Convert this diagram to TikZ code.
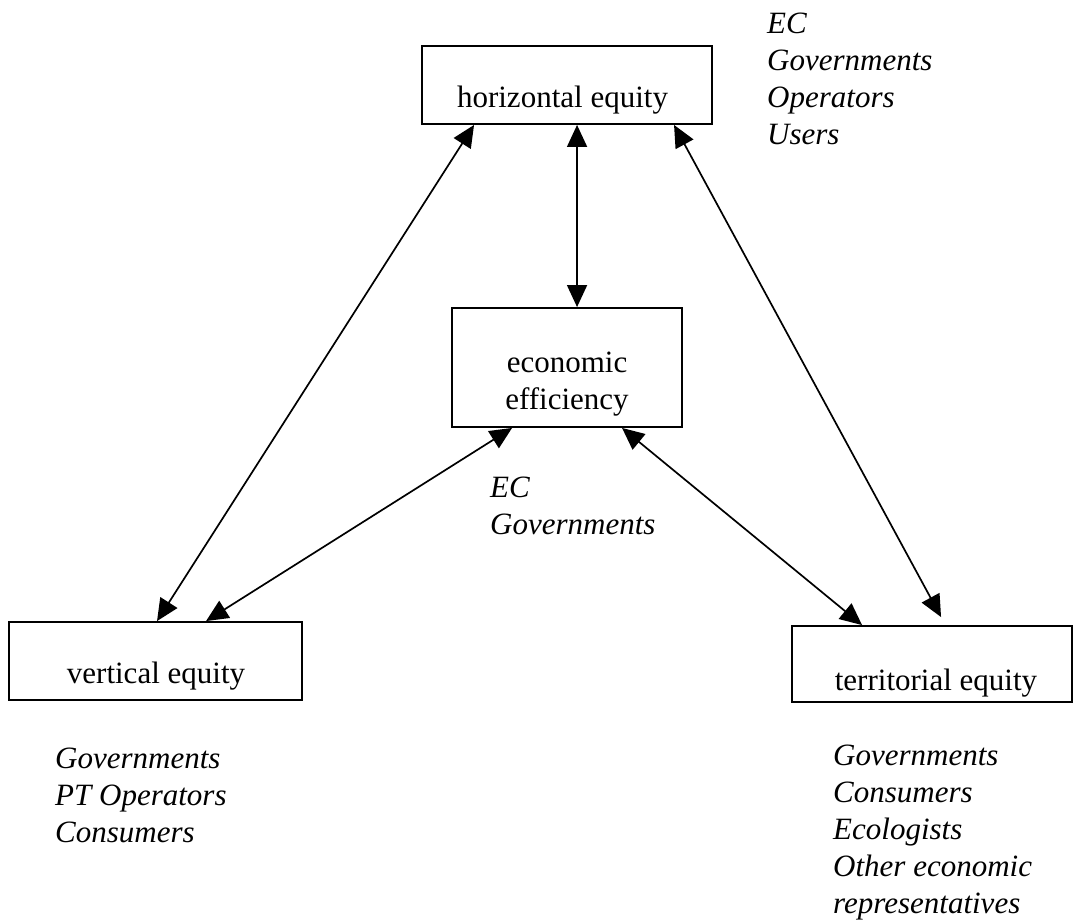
\documentclass[tikz,border=0pt]{standalone}
\usepackage{fontspec}
\setmainfont{Liberation Serif}
\usetikzlibrary{arrows.meta,calc}
\tikzset{
  box/.style={draw, line width=1.9pt, rectangle, inner sep=0pt, fill=white},
  boxtext/.style={anchor=base, inner sep=0pt, font=\fontsize{31}{37}\selectfont},
  who/.style={anchor=base west, inner sep=0pt, font=\fontsize{31}{37}\selectfont\itshape},
  link/.style={line width=1.7pt, {Triangle[length=22pt,width=20pt]}-{Triangle[length=22pt,width=20pt]}}
}
\begin{document}
\begin{tikzpicture}[x=1pt,y=-1pt]
\useasboundingbox (0,0) rectangle (1074,922);
% boxes
\node[box, minimum width=290pt, minimum height=78pt] (he) at (567,85) {};
\node[box, minimum width=230pt, minimum height=119pt] (ee) at (567,367.5) {};
\node[box, minimum width=293pt, minimum height=78pt] (ve) at (155.5,661) {};
\node[box, minimum width=280pt, minimum height=76pt] (te) at (932,664) {};
% box texts
\node[boxtext] (het) at (562.5,107) {horizontal equity};
\node[boxtext] (eet) at (567,372) {\begin{tabular}[t]{@{}c@{}}economic\\efficiency\end{tabular}};
\node[boxtext] (vet) at (156,683) {vertical equity};
\node[boxtext] (tet) at (936,690) {territorial equity};
% connectors
\draw[link] ([xshift=156pt]he.south west) -- ([xshift=126pt]ee.north west);
\draw[link] ([xshift=53pt]he.south west) -- ([xshift=149pt]ve.north west);
\draw[link] ([xshift=61pt]ee.south west) -- ([xshift=198pt]ve.north west);
\draw[link] ([xshift=171pt]ee.south west) -- ([xshift=71pt]te.north west);
\draw[link] ([xshift=253pt]he.south west) -- ([xshift=150pt,yshift=8pt]te.north west);
% actor labels
\node[who] (l1) at (767,33) {\begin{tabular}[t]{@{}l@{}}EC\\Governments\\Operators\\Users\end{tabular}};
\node[who] (l2) at (490,497) {\begin{tabular}[t]{@{}l@{}}EC\\Governments\end{tabular}};
\node[who] (l3) at (55,768) {\begin{tabular}[t]{@{}l@{}}Governments\\PT Operators\\Consumers\end{tabular}};
\node[who] (l4) at (833,765) {\begin{tabular}[t]{@{}l@{}}Governments\\Consumers\\Ecologists\\Other economic\\representatives\end{tabular}};
\end{tikzpicture}
\end{document}
